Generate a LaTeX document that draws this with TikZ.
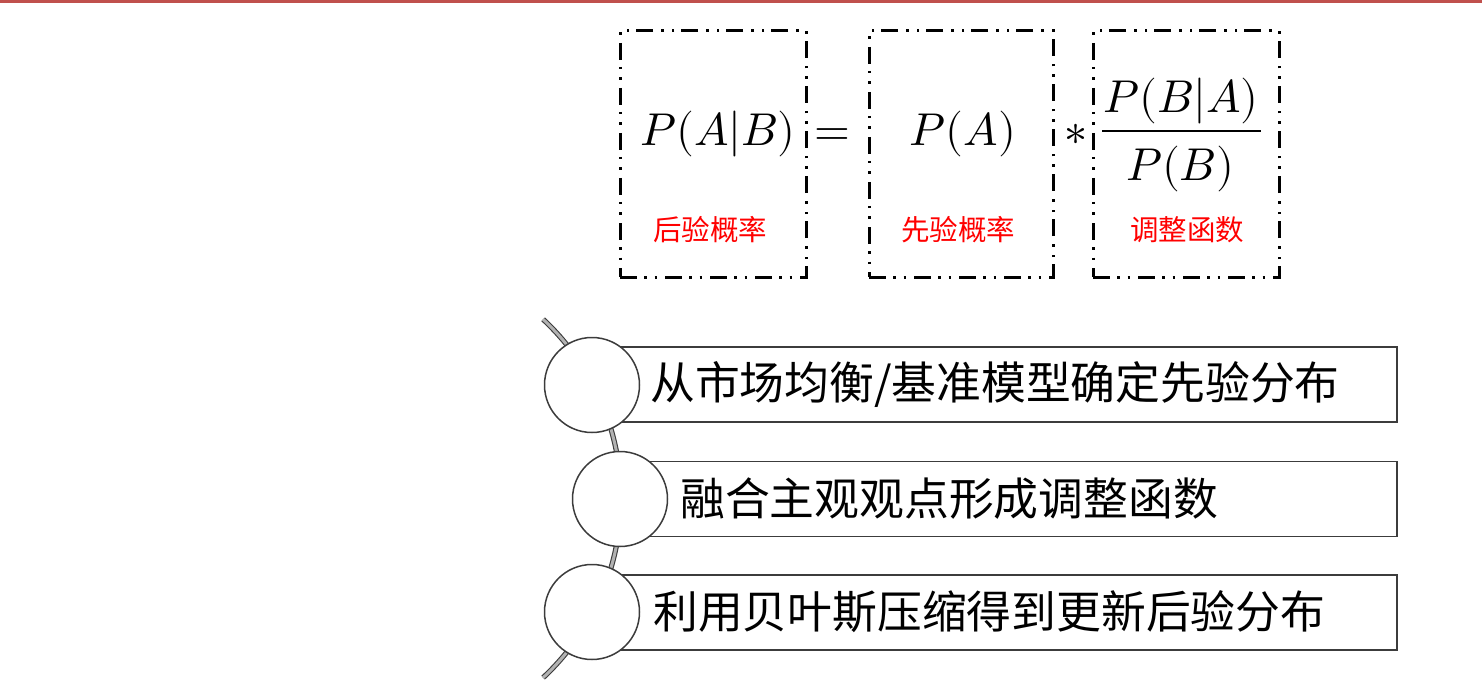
\documentclass[tikz,border=0pt]{standalone}
\usepackage{fontspec}
\usepackage{unicode-math}
\setmathfont{Latin Modern Math}
\newfontfamily\cjk{Noto Sans CJK SC}
\definecolor{rulered}{RGB}{192,80,77}
\definecolor{lineg}{RGB}{60,60,60}
\tikzset{
  fbox/.style={draw=black, line width=3pt, dash pattern=on 17pt off 7pt on 2.5pt off 8pt on 2.5pt off 8pt,
    minimum height=246pt, inner sep=0pt},
  mathtxt/.style={font=\fontsize{46}{50}\selectfont, inner sep=0pt, anchor=base},
  lbl/.style={font=\cjk\fontsize{28.5}{30}\selectfont, text=red, inner sep=0pt},
  rowbox/.style={draw=lineg, line width=1.5pt, minimum height=75pt, inner sep=0pt, anchor=west},
  ball/.style={circle, draw=lineg, line width=1.5pt, fill=white, minimum size=95pt, inner sep=0pt},
  rowtxt/.style={font=\cjk\fontsize{44.8}{48}\selectfont, inner sep=0pt, anchor=west},
  spine/.style={draw=lineg, line width=1.1pt, double=black!30, double distance=3pt}
}
\begin{document}
\begin{tikzpicture}[x=1pt,y=-1pt]
\useasboundingbox (0,0) rectangle (1482,687);
\node[fill=rulered, minimum width=1482pt, minimum height=3pt, inner sep=0pt, anchor=north west] (rule) at (0,0) {};
% formula boxes
\node[fbox, minimum width=186pt] (b1) at (713,154) {};
\node[fbox, minimum width=184pt] (b2) at (961,154) {};
\node[fbox, minimum width=186pt] (b3) at (1186,154) {};
\node[mathtxt] (post) at (718,146) {$P(A|B)$};
\node[mathtxt] (eq) at (832,146) {$=$};
\node[mathtxt] (prior) at (963,146) {$P(A)$};
\node[mathtxt] (star) at (1076,146) {$\ast$};
\node[mathtxt] (num) at (1181,113) {$P(B|A)$};
\node[mathtxt] (den) at (1180,181) {$P(B)$};
\coordinate (barL) at (1102,131);
\coordinate (barR) at (1261,131);
\draw[line width=2.8pt] (barL) -- (barR);
\node[lbl] (l1) at (710,230) {后验概率};
\node[lbl] (l2) at (958,230) {先验概率};
\node[lbl] (l3) at (1187,230) {调整函数};
% spine
\coordinate (sp) at (543.1,319.3);
\draw[spine] (sp) arc[start angle=-47, end angle=47, radius=245];
% rows
\node[rowbox, minimum width=804pt] (r1) at (592,384.5) {};
\node[rowbox, minimum width=776pt] (r2) at (620,499) {};
\node[rowbox, minimum width=804pt] (r3) at (592,612.5) {};
\node[ball] (c1) at (592,385) {};
\node[ball] (c2) at (620,499) {};
\node[ball] (c3) at (592,612) {};
\node[rowtxt] (t1) at (650,385) {从市场均衡/基准模型确定先验分布};
\node[rowtxt] (t2) at (680,499) {融合主观观点形成调整函数};
\node[rowtxt] (t3) at (653,612) {利用贝叶斯压缩得到更新后验分布};
\end{tikzpicture}
\end{document}
